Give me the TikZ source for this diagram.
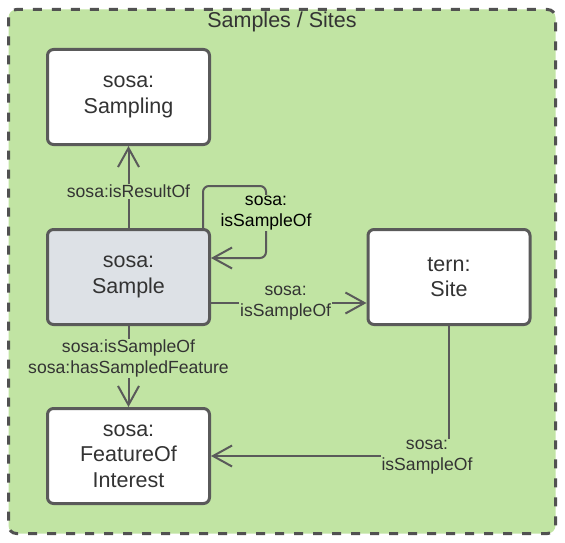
\documentclass[tikz,border=0pt]{standalone}
\usepackage{fontspec}
\setmainfont{Liberation Sans}
\usetikzlibrary{arrows.meta}
\definecolor{bggreen}{RGB}{193,228,163}
\definecolor{edgegray}{RGB}{90,90,90}
\definecolor{txtgray}{RGB}{51,51,51}
\definecolor{samplegray}{RGB}{221,225,230}
\tikzset{
  box/.style={draw=edgegray, line width=3pt, fill=white, rounded corners=6pt,
    minimum width=162pt, minimum height=95pt, inner sep=0pt, align=center,
    text=txtgray, font=\fontsize{21.5}{25.5}\selectfont},
  lbl/.style={fill=bggreen, inner sep=1pt, align=center, text=txtgray,
    font=\fontsize{17.6}{20.5}\selectfont},
  conn/.style={draw=edgegray, line width=2pt},
  arr/.style={conn, -{Straight Barb[length=19pt,width=21pt,line width=2pt]}},
}
\begin{document}
\begin{tikzpicture}[x=1pt,y=-1pt]
\useasboundingbox (0,0) rectangle (565,543);
\draw[draw=edgegray!90!black, fill=bggreen, line width=3pt, rounded corners=8pt,
  dash pattern=on 9pt off 10pt] (8.5,9.5) rectangle (555.5,533.5);
\node[text=txtgray, font=\fontsize{21.5}{24}\selectfont] (title) at (282,22) {Samples / Sites};

\node[box] (sampling) at (128.5,97) {sosa:\\Sampling};
\node[box, fill=samplegray] (sample) at (128.5,277) {sosa:\\Sample};
\node[box] (site) at (449,277) {tern:\\Site};
\node[box] (foi) at (128.5,456) {sosa:\\FeatureOf\\Interest};

\coordinate (loopA) at (266,186);
\draw[arr] (sample.north) -- (sampling.south)
  node[lbl, pos=0.45] (l1) {sosa:isResultOf};
\draw[arr, rounded corners=6pt] ([xshift=74.5pt]sample.north) |- (loopA) |- ([yshift=19pt]sample.east);
\node[lbl, text=black] (l2) at (266,213) {sosa:\\isSampleOf};
\draw[arr] ([yshift=-26pt]sample.east) -- ([yshift=-26pt]site.west)
  node[lbl, pos=0.48] (l3) {sosa:\\isSampleOf};
\draw[arr] (sample.south) -- (foi.north)
  node[lbl, pos=0.4] (l4) {sosa:isSampleOf\\sosa:hasSampledFeature};
\draw[arr] (site.south) |- (foi.east);
\node[lbl] (l5) at (427,457) {sosa:\\isSampleOf};
\end{tikzpicture}
\end{document}
